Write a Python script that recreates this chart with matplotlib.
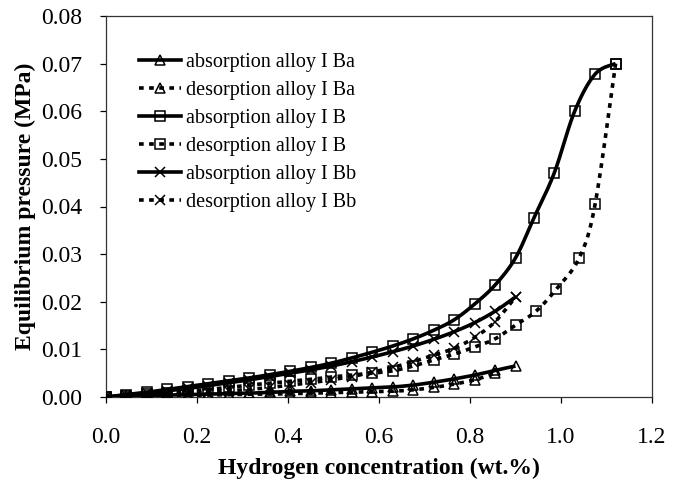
import numpy as np
import matplotlib
matplotlib.use("Agg")
import matplotlib.pyplot as plt
from matplotlib.ticker import FormatStrFormatter

# ---- data ----
x_grid = [0.0, 0.045, 0.09, 0.135, 0.18, 0.225, 0.27, 0.315, 0.36, 0.405, 0.45,
          0.495, 0.54, 0.585, 0.63, 0.675, 0.72, 0.765, 0.81, 0.855, 0.9]

abs_Ba_x = x_grid
abs_Ba_y = [0.0, 0.0002, 0.0003, 0.0004, 0.0005, 0.0006, 0.0007, 0.0008, 0.0010, 0.0012,
            0.0013, 0.0015, 0.0017, 0.0019, 0.0021, 0.0025, 0.0031, 0.0038, 0.0046, 0.0056, 0.0065]

des_Ba_x = x_grid[:-1]
des_Ba_y = [0.0, 0.0001, 0.0002, 0.0003, 0.0003, 0.0004, 0.0005, 0.0006, 0.0006, 0.0007,
            0.0008, 0.0009, 0.0010, 0.0011, 0.0012, 0.0015, 0.0020, 0.0027, 0.0036, 0.0050]

abs_B_x = [0.0, 0.045, 0.09, 0.135, 0.18, 0.225, 0.27, 0.315, 0.36, 0.405, 0.45, 0.495,
           0.54, 0.585, 0.63, 0.675, 0.72, 0.765, 0.81, 0.855, 0.9, 0.94, 0.985, 1.03,
           1.075, 1.12]
abs_B_y = [0.0, 0.0005, 0.0010, 0.0016, 0.0022, 0.0028, 0.0034, 0.0040, 0.0047, 0.0054,
           0.0062, 0.0071, 0.0082, 0.0094, 0.0107, 0.0122, 0.0140, 0.0162, 0.0195, 0.0235,
           0.0292, 0.0375, 0.0470, 0.0600, 0.0678, 0.0700]

des_B_x = [0.0, 0.045, 0.09, 0.135, 0.18, 0.225, 0.27, 0.315, 0.36, 0.405, 0.45, 0.495,
           0.54, 0.585, 0.63, 0.675, 0.72, 0.765, 0.81, 0.855, 0.9, 0.945, 0.99, 1.04,
           1.075, 1.12]
des_B_y = [0.0, 0.0003, 0.0006, 0.0009, 0.0012, 0.0016, 0.0020, 0.0025, 0.0029, 0.0033,
           0.0037, 0.0042, 0.0046, 0.0050, 0.0055, 0.0065, 0.0078, 0.0090, 0.0105, 0.0122,
           0.0151, 0.0180, 0.0227, 0.0292, 0.0405, 0.0700]

abs_Bb_x = x_grid
abs_Bb_y = [0.0, 0.0004, 0.0008, 0.0013, 0.0018, 0.0024, 0.0030, 0.0036, 0.0043, 0.0050,
            0.0057, 0.0065, 0.0074, 0.0084, 0.0095, 0.0107, 0.0121, 0.0137, 0.0156, 0.0180, 0.0210]

des_Bb_x = x_grid
des_Bb_y = [0.0, 0.0001, 0.0003, 0.0005, 0.0007, 0.0010, 0.0013, 0.0016, 0.0020, 0.0025,
            0.0030, 0.0036, 0.0043, 0.0052, 0.0062, 0.0074, 0.0088, 0.0102, 0.0125, 0.0158, 0.0210]

labels = ["absorption alloy I Ba", "desorption alloy I Ba",
          "absorption alloy I B", "desorption alloy I B",
          "absorption alloy I Bb", "desorption alloy I Bb"]

x_ticks = [0.0, 0.2, 0.4, 0.6, 0.8, 1.0, 1.2]
y_ticks = [0.0, 0.01, 0.02, 0.03, 0.04, 0.05, 0.06, 0.07, 0.08]


def smooth(xs, ys, n=16):
    """Excel-like smoothed line (Catmull-Rom as cubic Bezier)."""
    p = np.column_stack([xs, ys]).astype(float)
    out = [p[0]]
    m = len(p)
    t = np.linspace(0, 1, n + 1)[1:]
    for i in range(m - 1):
        p0 = p[i - 1] if i > 0 else p[i]
        p1 = p[i]
        p2 = p[i + 1]
        p3 = p[i + 2] if i + 2 < m else p[i + 1]
        c1 = p1 + (p2 - p0) / 6.0
        c2 = p2 - (p3 - p1) / 6.0
        for tt in t:
            b = ((1 - tt) ** 3) * p1 + 3 * ((1 - tt) ** 2) * tt * c1 + \
                3 * (1 - tt) * tt ** 2 * c2 + tt ** 3 * p2
            out.append(b)
    out = np.array(out)
    return out[:, 0], out[:, 1]


plt.rcParams['font.family'] = ['Liberation Serif', 'DejaVu Serif']

fig = plt.figure(figsize=(6.8, 4.83), dpi=100)
ax = fig.add_axes([106 / 680, 1 - 397 / 483, 546 / 680, 381 / 483])

series = [
    (abs_Ba_x, abs_Ba_y, '^', 'solid'),
    (des_Ba_x, des_Ba_y, '^', 'dotted'),
    (abs_B_x, abs_B_y, 's', 'solid'),
    (des_B_x, des_B_y, 's', 'dotted'),
    (abs_Bb_x, abs_Bb_y, 'x', 'solid'),
    (des_Bb_x, des_Bb_y, 'x', 'dotted'),
]

handles = []
lw = 2.6
for (xs, ys, mk, ls), lab in zip(series, labels):
    sx, sy = smooth(xs, ys)
    style = '-' if ls == 'solid' else (0, (1.3, 1.5))
    ax.plot(sx, sy, color='black', lw=lw, linestyle=style,
            solid_capstyle='butt', dash_capstyle='butt', zorder=3)
    ms = 7.5 if mk != 'x' else 7
    ax.plot(xs, ys, linestyle='none', marker=mk, ms=ms, mfc='none', mec='black',
            mew=1.1, zorder=4)
    h, = ax.plot([], [], color='black', lw=lw, linestyle=style, marker=mk, ms=ms,
                 mfc='none', mec='black', mew=1.1, dash_capstyle='butt')
    handles.append(h)

ax.set_xlim(0, 1.2)
ax.set_ylim(0, 0.08)
ax.set_xticks(x_ticks)
ax.set_yticks(y_ticks)
ax.xaxis.set_major_formatter(FormatStrFormatter('%.1f'))
ax.yaxis.set_major_formatter(FormatStrFormatter('%.2f'))
ax.tick_params(direction='out', length=4.5, width=0.9, labelsize=17, colors='black')
ax.tick_params(axis='x', pad=17)
ax.tick_params(axis='y', pad=12.5)
for s in ax.spines.values():
    s.set_linewidth(0.9)
    s.set_color('#333333')

ax.set_xlabel('Hydrogen concentration (wt.%)', fontsize=17, fontweight='bold', labelpad=7.5)
ax.set_ylabel('Equilibrium pressure (MPa)', fontsize=17, fontweight='bold', labelpad=3.5)

leg = ax.legend(handles, labels, loc='upper left', bbox_to_anchor=(0.0605, 0.904),
                frameon=False, fontsize=14.5, handlelength=2.1, handletextpad=0.22,
                labelspacing=0.45, borderpad=0, borderaxespad=0)

fig.savefig('out.png', dpi=100)
